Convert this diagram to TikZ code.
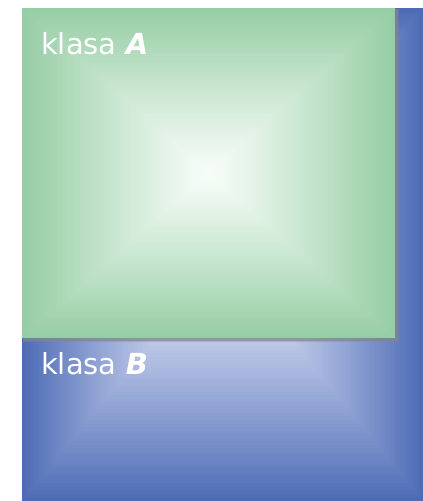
\documentclass[tikz,border=0pt]{standalone}
\usepackage{fontspec}
\setmainfont{DejaVu Sans}
\definecolor{gedge}{RGB}{150,205,164}
\definecolor{gcent}{RGB}{248,253,249}
\definecolor{bedge}{RGB}{78,108,182}
\definecolor{bcent}{RGB}{238,240,253}
\definecolor{shadowgray}{RGB}{130,135,140}
\tikzset{
  lbl/.style={text=white, font=\fontsize{29}{33}\selectfont, inner sep=0pt, anchor=base west},
}
% #1 cx, #2 cy, #3 hw, #4 hh, #5 edge colour, #6 centre colour, #7 exponent
\newcommand{\pyrfill}[7]{%
  \foreach \myi in {0,...,70}{%
    \pgfmathsetmacro{\myv}{1-\myi/70}%
    \pgfmathsetmacro{\mypc}{100*(1-(\myv)^#7)}%
    \pgfmathsetmacro{\myw}{#3*\myv}%
    \pgfmathsetmacro{\myh}{#4*\myv}%
    \fill[#6!\mypc!#5] ({#1-\myw},{#2-\myh}) rectangle ({#1+\myw},{#2+\myh});
  }%
}
\begin{document}
\begin{tikzpicture}[x=1pt,y=-1pt]
\useasboundingbox (0,0) rectangle (423,501);
\fill[white] (0,0) rectangle (423,501);
% blue rectangle (klasa B)
\pyrfill{222.5}{254.5}{200.5}{246.5}{bedge}{bcent}{1.15}
% shadow of green
\fill[shadowgray,opacity=0.35] (23,9) rectangle (399,342);
\fill[shadowgray,opacity=0.6] (23,9) rectangle (397.5,340.5);
% green square (klasa A)
\pyrfill{208.5}{173}{186.5}{165}{gedge}{gcent}{1.1}
\node[lbl] (la) at (41,54) {klasa \textbf{\textit{A}}};
\node[lbl] (lb) at (41,374) {klasa \textbf{\textit{B}}};
\end{tikzpicture}
\end{document}
